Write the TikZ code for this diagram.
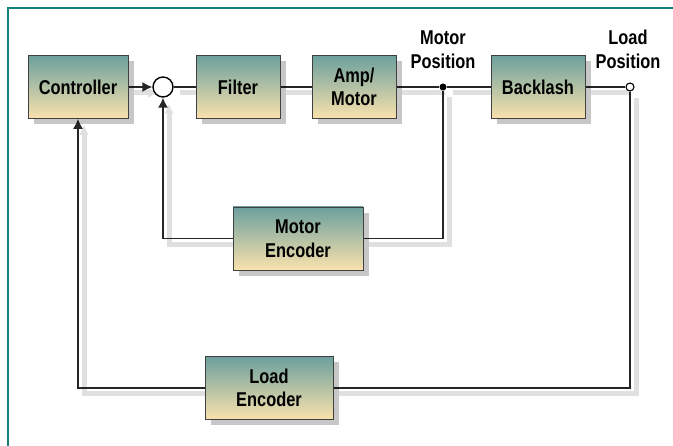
\documentclass[tikz,border=0pt]{standalone}
\usepackage{fontspec}
\setmainfont{Liberation Sans}[FakeStretch=0.82]
\usetikzlibrary{arrows.meta,shadows,backgrounds}

\definecolor{frameteal}{RGB}{22,128,122}
\definecolor{boxtop}{RGB}{108,160,158}
\definecolor{boxbot}{RGB}{250,226,172}

\begin{document}
\begin{tikzpicture}[x=1pt, y=-1pt,
blk/.style={draw=black!75, line width=0.8pt, rectangle, top color=boxtop, bottom color=boxbot,
              minimum height=63pt, inner sep=2pt, align=center,
              font=\fontsize{20}{23.5}\selectfont\bfseries,
              drop shadow={shadow xshift=6pt, shadow yshift=-6pt, fill=black, opacity=0.22}},
lnk/.style={line width=1.4pt, black!85,
              preaction={draw, black!12, line width=5pt, transform canvas={shift={(6pt,-6pt)}}}},
arr/.style={lnk, -{Latex[length=10pt,width=10pt]}},
lbl/.style={font=\fontsize{20}{24.5}\selectfont\bfseries, align=center, inner sep=0pt},
]
\useasboundingbox (0,0) rectangle (673,446);
\clip (0,0) rectangle (673,446);
\draw[frameteal, line width=2.5pt] (8,8) rectangle (700,480);

\node[blk, minimum width=100pt] (ctrl) at (78,87) {Controller};
\node[circle, draw, fill=white, line width=1.4pt, minimum size=20pt, inner sep=0pt] (sum) at (163,87) {};
\node[blk, minimum width=84pt] (filt) at (238,87) {Filter};
\node[blk, minimum width=84pt] (amp) at (354,87) {Amp/\\Motor};
\node[blk, minimum width=94pt] (back) at (538,87) {Backlash};
\node[blk, minimum width=130pt] (menc) at (298,238.5) {Motor\\Encoder};
\node[blk, minimum width=128pt] (lenc) at (269,388) {Load\\Encoder};
\node[circle, fill=black, inner sep=0pt, minimum size=7pt] (mpos) at (443,87) {};
\node[circle, draw, fill=white, line width=1.1pt, inner sep=0pt, minimum size=8pt] (lpos) at (630,87) {};
\node[lbl, anchor=south] (mlbl) at (443,69) {Motor\\Position};
\node[lbl, anchor=south] (llbl) at (628,69) {Load\\Position};

\begin{scope}[on background layer]
\draw[arr] (ctrl) -- (sum);
\draw[lnk] (sum) -- (filt);
\draw[lnk] (filt) -- (amp);
\draw[lnk] (amp) -- (mpos) -- (back);
\draw[lnk] (back) -- (lpos);
\draw[lnk] (mpos) |- (menc);
\draw[arr] (menc) -| (sum);
\draw[lnk] (lpos) |- (lenc);
\draw[arr] (lenc) -| (ctrl);
\end{scope}
\end{tikzpicture}
\end{document}
